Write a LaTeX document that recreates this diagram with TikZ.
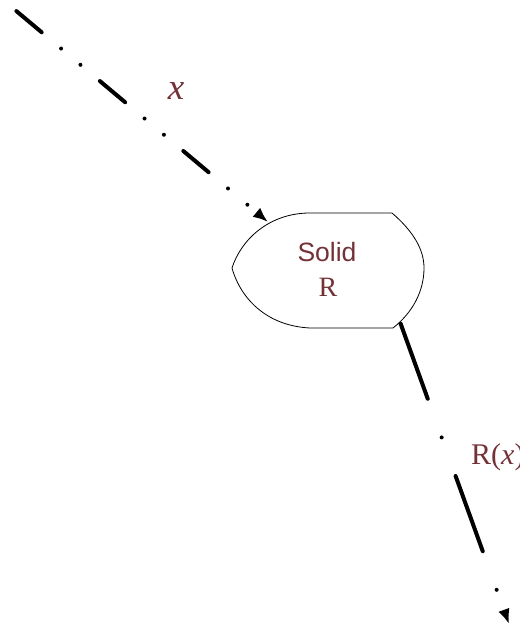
\documentclass[tikz,border=0pt]{standalone}
\usepackage{fontspec}
\setmainfont{Liberation Serif}
\newfontfamily\lsans{Liberation Sans}
\usetikzlibrary{arrows.meta}
\definecolor{lbl}{RGB}{115,50,55}
\begin{document}
\begin{tikzpicture}[x=1pt,y=1pt,
  flow/.style={line width=4pt, line cap=round, -{Latex[length=15pt,width=12pt]}},
  flowa/.style={flow, dash pattern=on 33pt off 25.3pt on 0pt off 25.3pt on 0pt off 25.3pt},
  flowb/.style={flow, dash pattern=on 80pt off 41pt on 0pt off 41pt},
  solidshape/.style={draw=black, line width=0.8pt, fill=white},
  lab/.style={text=lbl, inner sep=0pt}]
\useasboundingbox (0,0) rectangle (519,-628);
% solid shape
\draw[solidshape] (232,-268)
  .. controls (241,-240) and (268,-214) .. (308,-213)
  -- (392,-213)
  .. controls (414,-232) and (424,-250) .. (424,-268)
  .. controls (424,-292) and (412,-313) .. (393,-328)
  -- (310,-328)
  .. controls (268,-326) and (241,-300) .. (232,-268) -- cycle;
\node[lab, anchor=base, font=\lsans\fontsize{26.5}{30}\selectfont] (solid) at (327,-261) {Solid};
\node[lab, anchor=base, font=\fontsize{28}{32}\selectfont] (solidR) at (328,-296) {R};
% coordinates
\coordinate (start) at (16.4,-11.1);
\coordinate (in) at (268,-222);
\coordinate (out) at (400.6,-323.6);
\coordinate (end) at (509,-624);
% connectors
\draw[flowa] (start) -- (in);
\draw[flowb] (out) -- (end);
% labels
\node[lab, anchor=base, font=\fontsize{37}{40}\selectfont\itshape] (xlab) at (176,-100) {x};
\node[lab, anchor=base west, font=\fontsize{30}{34}\selectfont] (rxlab) at (471,-464) {R(\textit{x})};
\end{tikzpicture}
\end{document}
